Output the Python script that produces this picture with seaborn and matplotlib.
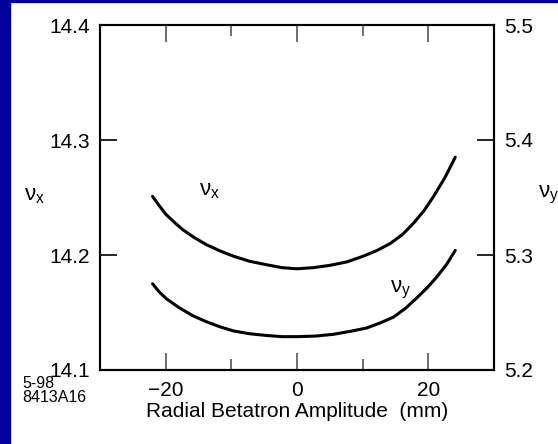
import matplotlib
matplotlib.use("Agg")
import matplotlib.pyplot as plt
from matplotlib.patches import Rectangle
from matplotlib.ticker import MultipleLocator
import pandas as pd
import seaborn as sns

# values
amp_x = [-22.0, -21.0, -19.9, -18.6, -17.4, -15.6, -13.8, -11.7, -9.7, -7.2, -4.6, -2.3, 0.0,
         2.5, 5.0, 7.6, 10.1, 12.2, 14.2, 16.1, 17.8, 19.4, 20.8, 22.5, 24.1]
nu_x = [14.251, 14.243, 14.235, 14.228, 14.222, 14.215, 14.209, 14.2035, 14.199, 14.1945, 14.1915, 14.189, 14.188,
        14.189, 14.191, 14.194, 14.199, 14.204, 14.210, 14.218, 14.228, 14.239, 14.251, 14.267, 14.285]

amp_y = [-22.0, -21.0, -19.9, -17.9, -15.8, -13.8, -11.7, -9.7, -7.2, -4.6, -2.3, 0.0,
         2.8, 5.5, 8.0, 10.6, 12.7, 14.7, 16.6, 18.3, 19.9, 21.3, 22.8, 24.1]
nu_y = [5.275, 5.268, 5.262, 5.254, 5.247, 5.242, 5.2375, 5.234, 5.2315, 5.230, 5.229, 5.229,
        5.2295, 5.231, 5.2335, 5.2365, 5.241, 5.246, 5.254, 5.263, 5.272, 5.281, 5.292, 5.304]

x_ticks = [-20, 0, 20]
left_ticks = [14.1, 14.2, 14.3, 14.4]
right_ticks = [5.2, 5.3, 5.4, 5.5]

df_x = pd.DataFrame({"amp": amp_x, "tune": nu_x})
df_y = pd.DataFrame({"amp": amp_y, "tune": nu_y})

sns.set_theme(style="white")
plt.rcParams["font.family"] = ["Liberation Sans", "DejaVu Sans"]
plt.rcParams["mathtext.fontset"] = "custom"
plt.rcParams["mathtext.rm"] = "Liberation Sans"
plt.rcParams["mathtext.it"] = "Liberation Sans"
plt.rcParams["text.color"] = "black"
plt.rcParams["xtick.color"] = "black"
plt.rcParams["ytick.color"] = "black"
plt.rcParams["axes.labelcolor"] = "black"

W, H = 558, 444
fig = plt.figure(figsize=(W / 100, H / 100), dpi=100, facecolor="white")

# blue frame on left and top
blue = "#00009c"
fig.patches.append(Rectangle((0, 0), 10 / W, 1, transform=fig.transFigure, color=blue, zorder=-1))
fig.patches.append(Rectangle((0, 1 - 2 / H), 1, 2 / H, transform=fig.transFigure, color=blue, zorder=-1))

ax = fig.add_axes([100 / W, 1 - 370 / H, 394 / W, 345 / H])
ax2 = ax.twinx()

sns.lineplot(data=df_x, x="amp", y="tune", ax=ax, color="black", linewidth=2.2)
sns.lineplot(data=df_y, x="amp", y="tune", ax=ax2, color="black", linewidth=2.2)

ax.set_xlim(-30, 30)
ax.set_ylim(14.1, 14.4)
ax2.set_ylim(5.2, 5.5)
ax.set_xticks(x_ticks)
ax.xaxis.set_minor_locator(MultipleLocator(10))
ax.set_yticks(left_ticks)
ax2.set_yticks(right_ticks)
ax.set_yticklabels([f"{v:.1f}" for v in left_ticks])
ax2.set_yticklabels([f"{v:.1f}" for v in right_ticks])
ax.set_xticklabels(["\u221220", "0", "20"])

for a in (ax, ax2):
    for s in a.spines.values():
        s.set_linewidth(1.5)
        s.set_color("black")

ax.tick_params(axis="x", which="major", direction="in", length=12, width=1.2,
               top=True, bottom=True, labelsize=15, pad=8, color="#555555", labelcolor="black")
ax.tick_params(axis="x", which="minor", direction="in", length=8, width=1.2,
               top=True, bottom=True, color="#555555")
ax.tick_params(axis="y", direction="in", length=12, width=1.2, left=True, right=False,
               labelsize=15, pad=7)
ax2.tick_params(axis="y", direction="in", length=12, width=1.2, right=True, left=False,
                labelsize=15, pad=7)

ax.set_xlabel("Radial Betatron Amplitude  (mm)", fontsize=15, labelpad=1)
ax.set_ylabel("")
ax2.set_ylabel("")

ax.text(-13.3, 14.256, r"$\mathregular{\nu_x}$", fontsize=16, ha="center", va="center")
ax.text(15.7, 14.170, r"$\mathregular{\nu_y}$", fontsize=16, ha="center", va="center")

fig.text(34 / W, 1 - 195 / H, r"$\mathregular{\nu_x}$", fontsize=16, ha="center", va="center")
fig.text(549 / W, 1 - 195 / H, r"$\mathregular{\nu_y}$", fontsize=16, ha="center", va="center")

fig.text(22 / W, 1 - 383 / H, "5-98", fontsize=11.5, ha="left", va="center")
fig.text(22 / W, 1 - 398 / H, "8413A16", fontsize=11.5, ha="left", va="center")

fig.savefig("out.png", dpi=100, facecolor=fig.get_facecolor())
